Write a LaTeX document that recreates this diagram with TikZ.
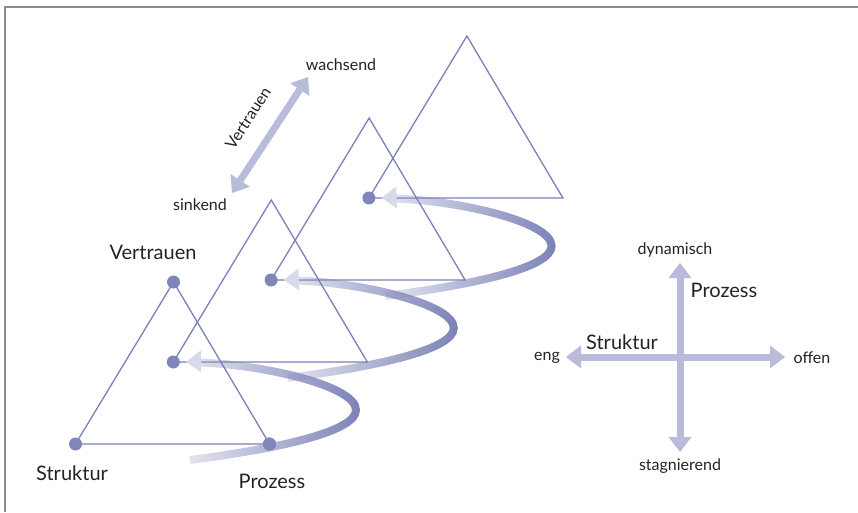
\documentclass[tikz,border=0pt]{standalone}
\usepackage{fontspec}
\setmainfont{Lato}
\usepackage{xcolor}
\usepackage{tikz}
\usetikzlibrary{arrows.meta, fadings}

\definecolor{linie}{RGB}{122,128,184}
\definecolor{punkt}{RGB}{128,134,186}
\definecolor{band}{RGB}{124,130,183}
\definecolor{kopf}{RGB}{216,218,234}
\definecolor{achse}{RGB}{184,187,217}
\definecolor{rahmen}{RGB}{140,140,140}
\definecolor{schrift}{RGB}{35,35,35}

\tikzfading[name=spiralfade, left color=transparent!85, middle color=transparent!15, right color=transparent!0]

\tikzset{
  gross/.style={text=schrift, font=\fontsize{20}{24}\selectfont},
  klein/.style={text=schrift, font=\fontsize{16}{19}\selectfont},
  achspfeil/.style={achse, line width=7pt, {Triangle[width=23pt,length=15pt,line width=0pt]}-{Triangle[width=23pt,length=15pt,line width=0pt]}},
  punktstil/.style={circle, fill=punkt, inner sep=0pt, minimum size=13pt},
  spirale/.style={band, line width=8pt, path fading=spiralfade, shorten >=19pt},
  spitze/.style={kopf, line width=0.01pt, shorten >=6pt, -{Triangle[width=22pt,length=15pt,line width=0pt]}}
}

\begin{document}
\begin{tikzpicture}[x=1pt, y=-1pt]
      \useasboundingbox (0,0) rectangle (858,512);

      % Rahmen
      \draw[rahmen, line width=2pt] (5.3,512) -- (5.3,6.7) -- (858,6.7);

      % Dreiecke
      \foreach \i in {0,1,2,3} {
        \coordinate (L\i) at (75.5+97.8*\i, 444-82*\i);
        \coordinate (A\i) at (173.5+97.8*\i, 282-82*\i);
        \coordinate (R\i) at (269.5+97.8*\i, 444-82*\i);
        \draw[linie, line width=1.3pt] (L\i) -- (A\i) -- (R\i) -- cycle;
      }

      % Punkte
      \node[punktstil] (S) at (L0) {};
      \node[punktstil] (V) at (A0) {};
      \node[punktstil] (P) at (R0) {};
      \foreach \i in {1,2,3}
        \node[punktstil] (D\i) at (L\i) {};

      % Spirale
      \foreach \i/\j in {2/3,1/2,0/1} {
        \coordinate (s\i) at (190+97.8*\i, 460-82*\i);
        \coordinate (r\i) at (356+97.8*\i, 410-82*\i);
        \coordinate (k\i) at (220+97.8*\i, 361-82*\i);
        \draw[spirale] (s\i) .. controls +(100,-13) and +(0,20) .. (r\i)
          .. controls +(0,-25) and +(85,2) .. (D\j);
        \draw[spitze] (k\i) -- (D\j);
      }
      \node[punktstil] at (R0) {};

      % Beschriftung vorne
      \node[gross] (vlab) at (153,252) {Vertrauen};
      \node[gross] (slab) at (72,473) {Struktur};
      \node[gross] (plab) at (272,481) {Prozess};

      % Vertrauen-Pfeil
      \coordinate (tief) at (232,193);
      \coordinate (hoch) at (308,77);
      \draw[achspfeil] (tief) -- (hoch);
      \node[klein, rotate=57, inner sep=1pt] (vpfeil) at (248,118) {Vertrauen};
      \node[klein] (wachs) at (341,65) {wachsend};
      \node[klein] (sink) at (200,205) {sinkend};

      % Achsenkreuz
      \coordinate (mitte) at (680,357);
      \coordinate (links) at (566,357);
      \coordinate (rechts) at (785,357);
      \coordinate (oben) at (680,263);
      \coordinate (unten) at (680,452);
      \draw[achspfeil] (links) -- (rechts);
      \draw[achspfeil] (unten) -- (oben);

      \node[klein] (dyn) at (675,250) {dynamisch};
      \node[klein] (stag) at (680,466) {stagnierend};
      \node[klein] (eng) at (547,358) {eng};
      \node[klein] (offen) at (812,358) {offen};
      \node[gross] (proz) at (724,290) {Prozess};
      \node[gross] (strk) at (622,342) {Struktur};
    \end{tikzpicture}
\end{document}
